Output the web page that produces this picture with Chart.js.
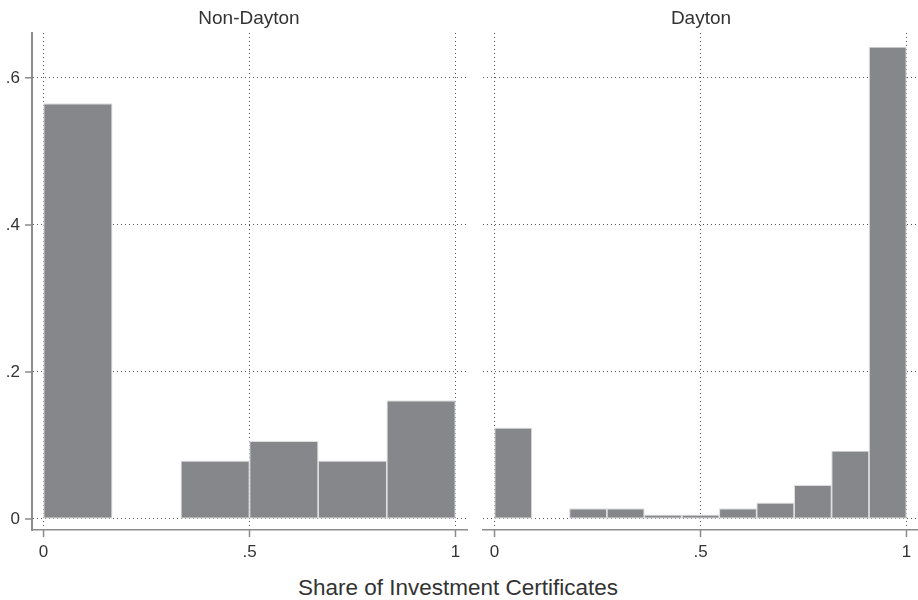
<!DOCTYPE html>
<html>
<head>
<meta charset="utf-8">
<script src="https://cdn.jsdelivr.net/npm/chart.js@4"></script>
<style>
  body { margin: 0; background: #fff; font-family: "Liberation Sans", Arial, sans-serif; }
  #wrap { position: relative; width: 918px; height: 600px; }
  canvas { position: absolute; top: 0; }
  .ptitle { position: absolute; top: 7px; font-size: 19px; color: #333; transform: translateX(-50%); white-space: nowrap; }
  #xtitle { position: absolute; top: 575px; left: 458px; font-size: 22.5px; color: #333; transform: translateX(-50%); white-space: nowrap; }
</style>
</head>
<body>
<div id="wrap">
  <canvas id="left" width="470" height="570" style="left:0"></canvas>
  <canvas id="right" width="448" height="570" style="left:470px"></canvas>
  <div class="ptitle" style="left:249px">Non-Dayton</div>
  <div class="ptitle" style="left:701px">Dayton</div>
  <div id="xtitle">Share of Investment Certificates</div>
</div>
<script>
// Panels
const panelTitles = ['Non-Dayton', 'Dayton'];

// Non-Dayton: 6 bins of width 1/6
const leftBinStart = [0, 1/6, 2/6, 3/6, 4/6, 5/6];
const leftBinWidth = 1/6;
const leftFraction = [0.565, 0, 0.079, 0.106, 0.079, 0.161];

// Dayton: 11 bins of width 1/11
const rightBinStart = [0, 1/11, 2/11, 3/11, 4/11, 5/11, 6/11, 7/11, 8/11, 9/11, 10/11];
const rightBinWidth = 1/11;
const rightFraction = [0.124, 0, 0.014, 0.014, 0.0055, 0.0055, 0.014, 0.022, 0.046, 0.0925, 0.642];

// Axis ticks
const xTicks = [0, 0.5, 1];
const xTickLabels = ['0', '.5', '1'];
const yTicks = [0, 0.2, 0.4, 0.6];
const yTickLabels = ['0', '.2', '.4', '.6'];

const barFill = '#86878b';
const barEdge = '#dedede';
const gridColor = '#555';
const axisColor = '#8c8c8c';
const textColor = '#333';
const fontFamily = '"Liberation Sans", Arial, sans-serif';

// solid tick marks outside the plot (the grid lines are dotted)
const tickMarks = {
  id: 'tickMarks',
  afterDraw(chart, args, opts) {
    const ctx = chart.ctx;
    const area = chart.chartArea;
    ctx.save();
    ctx.strokeStyle = axisColor;
    ctx.lineWidth = 1.5;
    ctx.beginPath();
    xTicks.forEach(v => {
      const px = chart.scales.x.getPixelForValue(v);
      ctx.moveTo(px, area.bottom);
      ctx.lineTo(px, area.bottom + 7);
    });
    if (opts.yTicks) {
      yTicks.forEach(v => {
        const py = chart.scales.y.getPixelForValue(v);
        ctx.moveTo(area.left, py);
        ctx.lineTo(area.left - 7, py);
      });
    }
    ctx.stroke();
    ctx.restore();
  }
};

const hasBar = c => c.raw && c.raw.y > 0;

function makePanel(id, starts, width, values, showY, padLeft, padRight) {
  const points = starts.map((s, i) => ({ x: s + width / 2, y: values[i] }));
  return new Chart(document.getElementById(id), {
    type: 'bar',
    data: {
      datasets: [{
        data: points,
        backgroundColor: c => (hasBar(c) ? barFill : 'rgba(0,0,0,0)'),
        borderColor: c => (hasBar(c) ? barEdge : 'rgba(0,0,0,0)'),
        borderWidth: c => (hasBar(c) ? 1.2 : 0),
        borderSkipped: false,
        barPercentage: 1,
        categoryPercentage: 1
      }]
    },
    plugins: [tickMarks],
    options: {
      responsive: false,
      animation: false,
      layout: { padding: { left: padLeft, right: padRight, top: 33, bottom: 0 } },
      plugins: {
        legend: { display: false },
        tooltip: { enabled: false },
        tickMarks: { yTicks: showY }
      },
      scales: {
        x: {
          type: 'linear',
          offset: false,
          min: -0.028,
          max: 1.028,
          afterBuildTicks: s => { s.ticks = xTicks.map(v => ({ value: v })); },
          afterFit: s => { s.height = 40; s.paddingLeft = 0; s.paddingRight = 0; },
          ticks: {
            callback: (v) => xTickLabels[xTicks.indexOf(v)],
            font: { family: fontFamily, size: 17 },
            color: textColor,
            padding: 12,
            maxRotation: 0
          },
          grid: { offset: false, color: gridColor, lineWidth: 1, drawTicks: false },
          border: { display: true, color: axisColor, width: 1.5, dash: [1, 3] }
        },
        y: {
          min: -0.015,
          max: 0.661,
          afterBuildTicks: s => { s.ticks = yTicks.map(v => ({ value: v })); },
          afterFit: s => { s.width = showY ? 32 : 0; s.paddingTop = 0; s.paddingBottom = 0; },
          ticks: {
            display: showY,
            callback: (v) => yTickLabels[yTicks.indexOf(v)],
            font: { family: fontFamily, size: 17 },
            color: textColor,
            padding: 12
          },
          grid: { color: gridColor, lineWidth: 1, drawTicks: false },
          border: { display: showY, color: axisColor, width: 2, dash: [1, 3] }
        }
      }
    }
  });
}

makePanel('left', leftBinStart, leftBinWidth, leftFraction, true, 0, 3);
makePanel('right', rightBinStart, rightBinWidth, rightFraction, false, 13, 0);
</script>
</body>
</html>
